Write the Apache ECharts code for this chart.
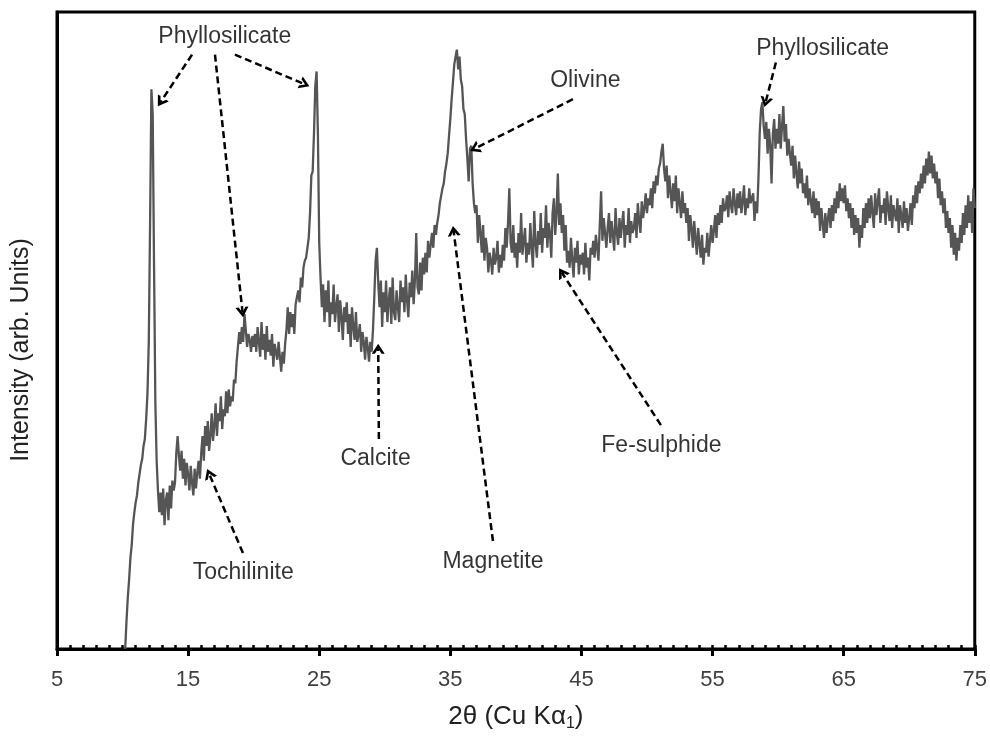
<!DOCTYPE html>
<html>
<head>
<meta charset="utf-8">
<script src="https://cdn.jsdelivr.net/npm/echarts@6/dist/echarts.min.js"></script>
<style>
  html, body { margin: 0; padding: 0; background: #fff; }
  #xrd_chart { width: 990px; height: 737px; }
</style>
</head>
<body>
<div id="xrd_chart"></div>
<script>
// XRD pattern, 2theta grid starts at 10.2 deg with 0.1 deg steps
var thetaStart = 10.2;
var thetaStep = 0.1;
var intensity = [
  0, 28, 52, 70, 92, 105, 126, 138,
  148, 155, 168, 170, 186, 192, 205, 212, 232, 258,
  310, 430, 565, 540, 390, 250, 190, 160, 138, 158,
  135, 162, 125, 150, 158, 130, 165, 142, 170, 160,
  168, 198, 215, 195, 180, 200, 172, 192, 165, 188,
  176, 160, 185, 168, 155, 182, 162, 178, 190, 172,
  198, 215, 190, 225, 205, 230, 200, 215, 238, 210,
  225, 248, 215, 238, 230, 255, 222, 242, 235, 260,
  238, 262, 245, 255, 250, 272, 268, 290, 305, 320,
  308, 325, 310, 338, 322, 305, 318, 312, 300, 316,
  305, 318, 300, 325, 310, 295, 330, 302, 318, 292,
  326, 300, 312, 296, 318, 285, 308, 300, 292, 310,
  295, 280, 300, 288, 308, 322, 345, 318, 340, 325,
  338, 318, 348, 355, 362, 350, 375, 365, 385, 392,
  395, 405, 415, 440, 478, 482, 520, 568, 583, 520,
  410, 375, 345, 368, 330, 362, 340, 372, 325, 350,
  338, 368, 330, 345, 358, 320, 352, 335, 312, 345,
  330, 350, 318, 338, 305, 345, 325, 312, 340, 310,
  318, 328, 300, 320, 310, 292, 315, 305, 290, 310,
  300, 322, 355, 392, 405, 370, 345, 372, 325, 360,
  340, 372, 330, 352, 365, 328, 375, 340, 332, 362,
  345, 330, 372, 350, 365, 340, 378, 352, 335, 370,
  355, 382, 348, 372, 420, 365, 358, 390, 362, 395,
  378, 400, 380, 412, 395, 408, 420, 405, 428, 418,
  430, 438, 450, 448, 465, 470, 482, 490, 500, 518,
  535, 555, 572, 590, 598, 605, 585, 598, 575, 568,
  545, 540, 515, 495, 472, 505, 508, 470, 450, 440,
  448, 410, 438, 420, 400, 428, 392, 415, 405, 380,
  400, 392, 378, 405, 388, 395, 412, 380, 398, 385,
  408, 392, 425, 405, 430, 465, 410, 400, 428, 395,
  410, 385, 420, 400, 440, 398, 412, 425, 390, 410,
  398, 430, 405, 385, 442, 410, 395, 422, 408, 440,
  400, 425, 415, 448, 405, 430, 420, 395, 440, 455,
  418, 440, 480, 428, 450, 420, 438, 402, 428, 390,
  402, 385, 415, 392, 375, 405, 390, 412, 378, 398,
  388, 400, 378, 410, 385, 395, 372, 405, 398, 412,
  395, 418, 405, 392, 428, 462, 412, 435, 420, 405,
  425, 440, 410, 432, 418, 402, 445, 420, 408, 435,
  415, 430, 442, 405, 428, 418, 445, 410, 432, 420,
  425, 440, 415, 450, 432, 420, 452, 435, 445, 460,
  440, 455, 448, 465, 445, 472, 460, 478, 468, 485,
  490, 502, 510, 485, 472, 488, 455, 478, 462, 445,
  470, 452, 478, 440, 465, 450, 435, 462, 440, 450,
  430, 445, 412, 438, 425, 405, 432, 415, 398, 425,
  410, 395, 418, 388, 405, 400, 420, 396, 412, 428,
  410, 422, 438, 415, 440, 428, 448, 430, 455, 442,
  445, 458, 436, 462, 448, 440, 465, 450, 438, 460,
  445, 462, 440, 452, 468, 438, 455, 445, 465, 450,
  448, 460, 432, 452, 440, 475, 522, 545, 552, 528,
  515, 532, 500, 525, 508, 470, 520, 535, 505, 525,
  510, 540, 505, 528, 548, 512, 530, 498, 515, 500,
  488, 508, 475, 498, 480, 465, 492, 470, 485, 460,
  470, 455, 478, 448, 465, 452, 440, 462, 435, 455,
  438, 452, 422, 445, 430, 415, 440, 420, 435, 445,
  425, 448, 432, 455, 440, 462, 445, 470, 452, 465,
  450, 468, 442, 455, 435, 450, 425, 445, 418, 438,
  420, 435, 405, 428, 415, 445, 425, 450, 430, 455,
  435, 458, 440, 425, 460, 438, 452, 465, 430, 448,
  440, 455, 428, 462, 445, 432, 458, 425, 448, 440,
  432, 455, 420, 448, 438, 425, 452, 430, 445, 422,
  435, 450, 428, 458, 445, 468, 450, 472, 460, 480,
  465, 488, 470, 495, 478, 502, 480, 498, 475, 490,
  470, 482, 455, 475, 448, 462, 440, 455, 425, 442,
  420, 435, 405, 428, 398, 420, 392, 415, 402, 428,
  410, 440, 418, 448, 425, 458, 430, 452, 420, 465,
  445
];

// phase labels and where they sit (data coords)
var phaseNames = ["Phyllosilicate", "Phyllosilicate", "Olivine", "Magnetite", "Calcite", "Fe-sulphide", "Tochilinite"];
var phaseLabelPos = [[17.8, 618], [63.4, 606], [45.3, 574], [38.25, 88], [29.3, 192], [51.1, 205], [19.2, 77]];

// dashed arrows: [from, to]
var arrows = [
  [[15.3, 600], [12.9, 552]],
  [[17.05, 600], [19.15, 340]],
  [[18.57, 600], [23.9, 570]],
  [[59.83, 592], [59.05, 552]],
  [[44.35, 555], [36.85, 505]],
  [[38.25, 109], [35.25, 422]],
  [[29.55, 212], [29.5, 303]],
  [[51.06, 226], [43.5, 380]],
  [[19.18, 97], [16.6, 177]]
];

var font = "Liberation Sans, Arial, sans-serif";

var lineData = intensity.map(function (v, i) {
  return [+(thetaStart + i * thetaStep).toFixed(1), v];
});

var labelData = phaseNames.map(function (n, i) {
  return { name: n, value: phaseLabelPos[i] };
});

var arrowData = arrows.map(function (a) {
  return [{ coord: a[0] }, { coord: a[1] }];
});

var xrdChart = echarts.init(document.getElementById("xrd_chart"));

var option = {
  animation: false,
  grid: {
    left: 57, right: 15, top: 12, bottom: 82,
    show: true,
    borderColor: "#000",
    borderWidth: 3
  },
  xAxis: [
    {
      type: "value",
      min: 5,
      max: 75,
      interval: 10,
      axisLine: { lineStyle: { color: "#000", width: 3 } },
      axisTick: { inside: false, length: 7, lineStyle: { color: "#000", width: 3 } },
      axisLabel: { fontSize: 22, color: "#404040", margin: 20, fontFamily: font },
      splitLine: { show: false },
      name: "{a|2θ (Cu Kα}{s|1}{a|)}",
      nameLocation: "middle",
      nameGap: 53,
      nameTextStyle: {
        rich: {
          a: { fontSize: 26, color: "#222", fontFamily: font, lineHeight: 30 },
          s: { fontSize: 16, color: "#222", fontFamily: font, verticalAlign: "bottom", lineHeight: 30 }
        }
      }
    },
    {
      // minor ticks pointing into the plot
      type: "value",
      min: 5,
      max: 75,
      interval: 1,
      position: "bottom",
      axisLine: { show: false },
      axisTick: { inside: true, length: 4, lineStyle: { color: "#000", width: 2.5 } },
      axisLabel: { show: false },
      splitLine: { show: false }
    }
  ],
  yAxis: {
    type: "value",
    min: 0,
    max: 643,
    axisLine: { show: true, lineStyle: { color: "#000", width: 3 } },
    axisTick: { show: false },
    axisLabel: { show: false },
    splitLine: { show: false }
  },
  graphic: [
    {
      type: "text",
      x: 21,
      y: 350,
      rotation: Math.PI / 2,
      style: {
        text: "Intensity (arb. Units)",
        fontSize: 25,
        fontFamily: font,
        fill: "#222",
        align: "center",
        verticalAlign: "middle"
      }
    }
  ],
  series: [
    {
      type: "line",
      name: "XRD",
      xAxisIndex: 0,
      data: lineData,
      showSymbol: false,
      lineStyle: { color: "#555", width: 2.3 },
      markLine: {
        silent: true,
        symbol: ["none", "path://M5,0 L10,8 L7.6,8 L5,3.8 L2.4,8 L0,8 Z"],
        symbolSize: [13, 10],
        label: { show: false },
        lineStyle: { color: "#000", width: 2.5, type: [7, 4] },
        data: arrowData
      }
    },
    {
      type: "scatter",
      name: "labels",
      xAxisIndex: 0,
      symbolSize: 0,
      silent: true,
      label: {
        show: true,
        position: "inside",
        formatter: "{b}",
        fontSize: 23,
        color: "#000",
        fontFamily: font
      },
      data: labelData
    }
  ]
};

xrdChart.setOption(option);
</script>
</body>
</html>
